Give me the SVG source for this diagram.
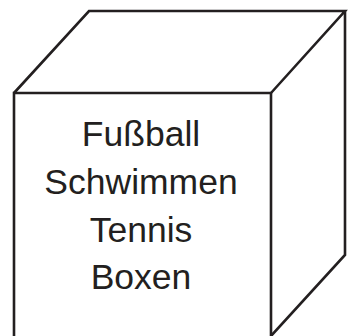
<svg xmlns="http://www.w3.org/2000/svg" width="348" height="336" viewBox="0 0 348 336">
<style>
.edge{fill:none;stroke:#231f20;stroke-width:2.6;stroke-linejoin:miter;stroke-linecap:butt}
.lbl{font-family:"Liberation Sans",Arial,sans-serif;font-size:35.5px;fill:#231f20;text-anchor:middle}
</style>
<rect width="348" height="336" fill="#ffffff"/>
<g id="cube">
<path class="edge" d="M14,345 V93 H271 V345"/>
<path class="edge" d="M14,93 L89,11 H345 L271,93"/>
<path class="edge" d="M345,11 V255 L271,336"/>
</g>
<g id="labels">
<text class="lbl" x="141" y="146">Fußball</text>
<text class="lbl" x="141" y="194">Schwimmen</text>
<text class="lbl" x="141" y="242">Tennis</text>
<text class="lbl" x="141" y="289">Boxen</text>
</g>
</svg>
